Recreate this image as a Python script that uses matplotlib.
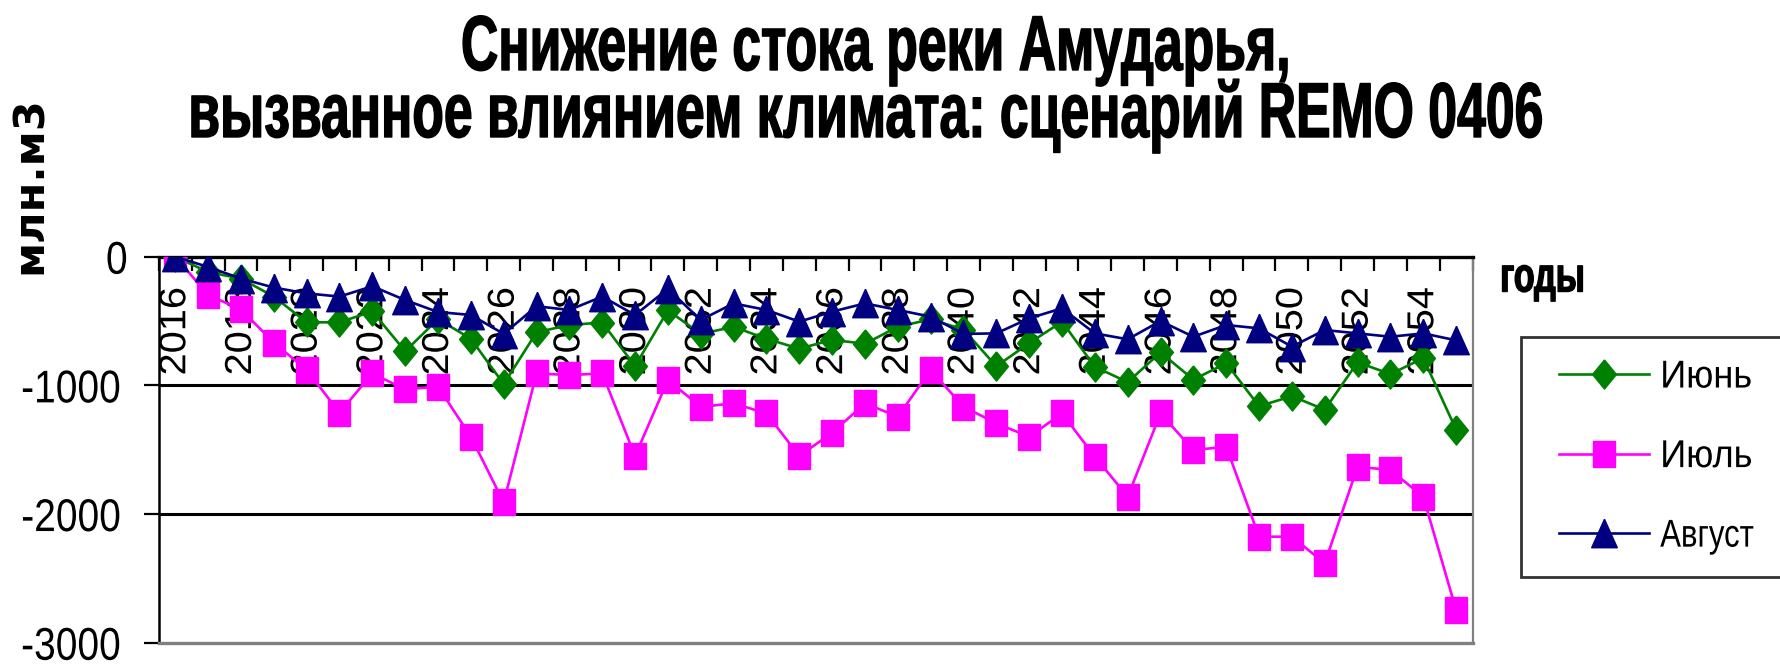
import matplotlib
matplotlib.use("Agg")
import matplotlib.pyplot as plt
import matplotlib.colors as mcolors
from matplotlib.lines import Line2D
from matplotlib.legend_handler import HandlerLine2D
from matplotlib.path import Path
from matplotlib.patheffects import AbstractPathEffect
from matplotlib.transforms import blended_transform_factory

years = list(range(2016, 2056))
# monthly runoff decrease, mln m3
june = [0, -120, -170, -310, -510, -510, -425, -735, -485, -638,
        -990, -588, -530, -512, -850, -417, -600, -545, -638, -715,
        -646, -677, -544, -487, -566, -852, -672, -505, -856, -975,
        -744, -955, -828, -1162, -1084, -1189, -820, -913, -788, -1344]
july = [0, -298, -410, -668, -880, -1212, -907, -1031, -1010, -1399,
        -1910, -907, -920, -907, -1549, -959, -1166, -1140, -1218, -1549,
        -1368, -1140, -1243, -881, -1166, -1295, -1399, -1218, -1554, -1865,
        -1218, -1503, -1477, -2176, -2176, -2383, -1632, -1658, -1865, -2746]
august = [0, -80, -170, -240, -285, -310, -230, -337, -430, -453,
          -600, -385, -414, -310, -453, -250, -492, -363, -414, -505,
          -427, -363, -414, -466, -600, -596, -479, -401, -596, -642,
          -500, -622, -531, -557, -699, -570, -596, -622, -596, -650]
series_names = ["Июнь", "Июль", "Август"]
title_lines = ["Снижение стока реки Амударья,",
               "вызванное влиянием климата: сценарий REMO 0406"]


class Squeeze(AbstractPathEffect):
    """Scale glyph outlines along the text direction, optionally fattening them."""

    def __init__(self, sx, stroke=0.0, anchor="center"):
        super().__init__()
        self.sx = sx
        self.stroke = stroke
        self.anchor = anchor

    def draw_path(self, renderer, gc, tpath, affine, rgbFace=None):
        v = tpath.vertices.copy()
        if len(v):
            if self.anchor == "left":
                cx = v[:, 0].min()
            else:
                cx = (v[:, 0].min() + v[:, 0].max()) / 2
            v[:, 0] = cx + (v[:, 0] - cx) * self.sx
        path = Path(v, tpath.codes)
        if self.stroke and rgbFace is not None:
            gc0 = renderer.new_gc()
            gc0.copy_properties(gc)
            gc0.set_linewidth(self.stroke)
            gc0.set_foreground(mcolors.to_rgba(rgbFace), isRGBA=True)
            gc0.set_joinstyle("round")
            renderer.draw_path(gc0, path, affine, rgbFace)
            gc0.restore()
        else:
            renderer.draw_path(gc, path, affine, rgbFace)


# marker outlines: slightly taller than wide
diamond = [(0, 1), (0.82, 0), (0, -1), (-0.82, 0), (0, 1)]
square = [(-0.85, -1), (0.85, -1), (0.85, 1), (-0.85, 1), (-0.85, -1)]
triangle = [(0, 1), (0.9, -1), (-0.9, -1), (0, 1)]

sans = ["Liberation Sans", "DejaVu Sans"]

fig = plt.figure(figsize=(17.81, 6.65), dpi=100)
ax = fig.add_axes([0.0892, 0.0335, 0.7376, 0.5805])

x = list(range(len(years)))
ax.plot(x, june, color="#008000", lw=1.9, marker=diamond, ms=21, label=series_names[0], zorder=4)
ax.plot(x, july, color="#FF00FF", lw=1.9, marker=square, ms=19, label=series_names[1], zorder=4)
ax.plot(x, august, color="#000080", lw=1.9, marker=triangle, ms=20.5, label=series_names[2], zorder=5)

ax.set_xlim(-0.5, len(years) - 0.5)
ax.set_ylim(-3000, 0)

# category axis sits on the zero line at the top
ax.xaxis.set_ticks_position("top")
ax.set_xticks([i - 0.5 for i in range(len(years) + 1)])
ax.set_xticklabels([])
ax.tick_params(axis="x", direction="in", length=10, width=1.6, color="black")

trans = blended_transform_factory(ax.transData, ax.transAxes)
for i, yr in enumerate(years):
    if i % 2 == 0:
        ax.text(i, 0.915, str(yr), transform=trans, rotation=90, ha="center", va="top",
                fontsize=27, family=sans, zorder=2, path_effects=[Squeeze(1.06)])

yticks = [0, -1000, -2000, -3000]
ax.set_yticks(yticks)
ax.set_yticklabels([str(v) for v in yticks], family=sans, fontsize=33)
for t in ax.get_yticklabels():
    t.set_path_effects([Squeeze(0.85)])
ax.tick_params(axis="y", direction="out", length=11, width=1.6, pad=10)

for v in [-1000, -2000]:
    ax.axhline(v, color="black", lw=2.2, zorder=1)

ax.spines["top"].set_linewidth(2.4)
ax.spines["left"].set_linewidth(1.8)
ax.spines["bottom"].set_color("#808080")
ax.spines["bottom"].set_linewidth(2.4)
ax.spines["right"].set_color("#808080")
ax.spines["right"].set_linewidth(1.6)

for line, xc, base in zip(title_lines, [0.492, 0.486], [70, 137]):
    fig.text(xc, 1 - base / 665, line, ha="center", va="baseline",
             fontsize=56, fontweight="bold", family=sans,
             path_effects=[Squeeze(0.665, stroke=1.0)])

fig.text(0.017, 1 - 185 / 665, "млн.м3", rotation=90, ha="center", va="center",
         fontsize=31, fontweight="bold", family=["DejaVu Sans"])
fig.text(1543 / 1781, 1 - 279 / 665, "годы", ha="center", va="center",
         fontsize=35, fontweight="bold", family=sans, path_effects=[Squeeze(0.7, stroke=1.0)])

leg = fig.legend(loc="upper left", bbox_to_anchor=(1521 / 1781, 1 - 337 / 665),
                 prop={"family": sans, "size": 28}, frameon=True, fancybox=False,
                 edgecolor="black", handlelength=2.7, handletextpad=0.3,
                 labelspacing=1.12, borderpad=0.58, borderaxespad=0,
                 handler_map={Line2D: HandlerLine2D(xpad=0.4)})
leg.get_frame().set_linewidth(2.0)
for t, sx in zip(leg.get_texts(), [0.93, 0.93, 0.8]):
    t.set_path_effects([Squeeze(sx, anchor="left")])

fig.savefig("out.png", dpi=100)
